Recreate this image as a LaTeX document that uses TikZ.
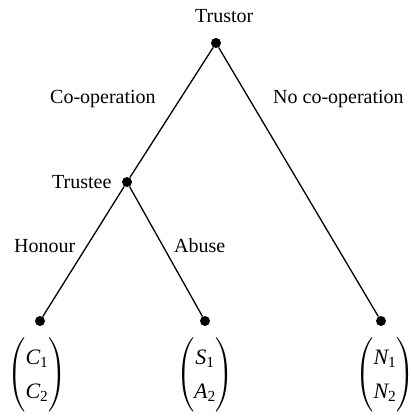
\documentclass[tikz,border=0pt]{standalone}
\usepackage{fontspec}
\setmainfont{Liberation Serif}
\usepackage{amsmath}
\usetikzlibrary{positioning}
\tikzset{
    move/.style={circle, fill=black, inner sep=0pt, minimum size=10pt},
    branch/.style={line width=1.3pt, color=black},
    lbl/.style={font=\fontsize{20}{24}\selectfont, inner sep=0pt, anchor=base west},
    payoff/.style={font=\fontsize{22}{26}\selectfont, inner sep=0pt},
}
\newcommand{\pvec}[4]{$\setlength{\arraycolsep}{0pt}\renewcommand{\arraystretch}{1.3}\begin{pmatrix}\textit{#1}_{\textrm{#2}}\\ \textit{#3}_{\textrm{#4}}\end{pmatrix}$}

\begin{document}
\begin{tikzpicture}[x=1pt, y=-1pt]
    \useasboundingbox (0,0) rectangle (411,417);

    % Nodi di decisione
    \node[move] (trustor) at (216,43) {};
    \node[move] (trustee) at (127,182) {};
    \node[move] (leafA) at (40,321) {};
    \node[move] (leafB) at (205,321) {};
    \node[move] (leafC) at (381,321) {};

    % Rami
    \draw[branch] (trustor) -- (trustee);
    \draw[branch] (trustor) -- (leafC);
    \draw[branch] (trustee) -- (leafA);
    \draw[branch] (trustee) -- (leafB);

    % Etichette
    \node[lbl] (ltrustor) at (195,23) {Trustor};
    \node[lbl] (ltrustee) at (52,188) {Trustee};
    \node[lbl] (lcoop) at (50,103) {Co-operation};
    \node[lbl] (lnocoop) at (273,103) {No co-operation};
    \node[lbl] (lhonour) at (14,252) {Honour};
    \node[lbl] (labuse) at (174,252) {Abuse};

    % Pagamenti
    \node[payoff] (payA) at (37,375) {\pvec{C}{1}{C}{2}};
    \node[payoff] (payB) at (205,375) {\pvec{S}{1}{A}{2}};
    \node[payoff] (payC) at (385,375) {\pvec{N}{1}{N}{2}};
\end{tikzpicture}
\end{document}
